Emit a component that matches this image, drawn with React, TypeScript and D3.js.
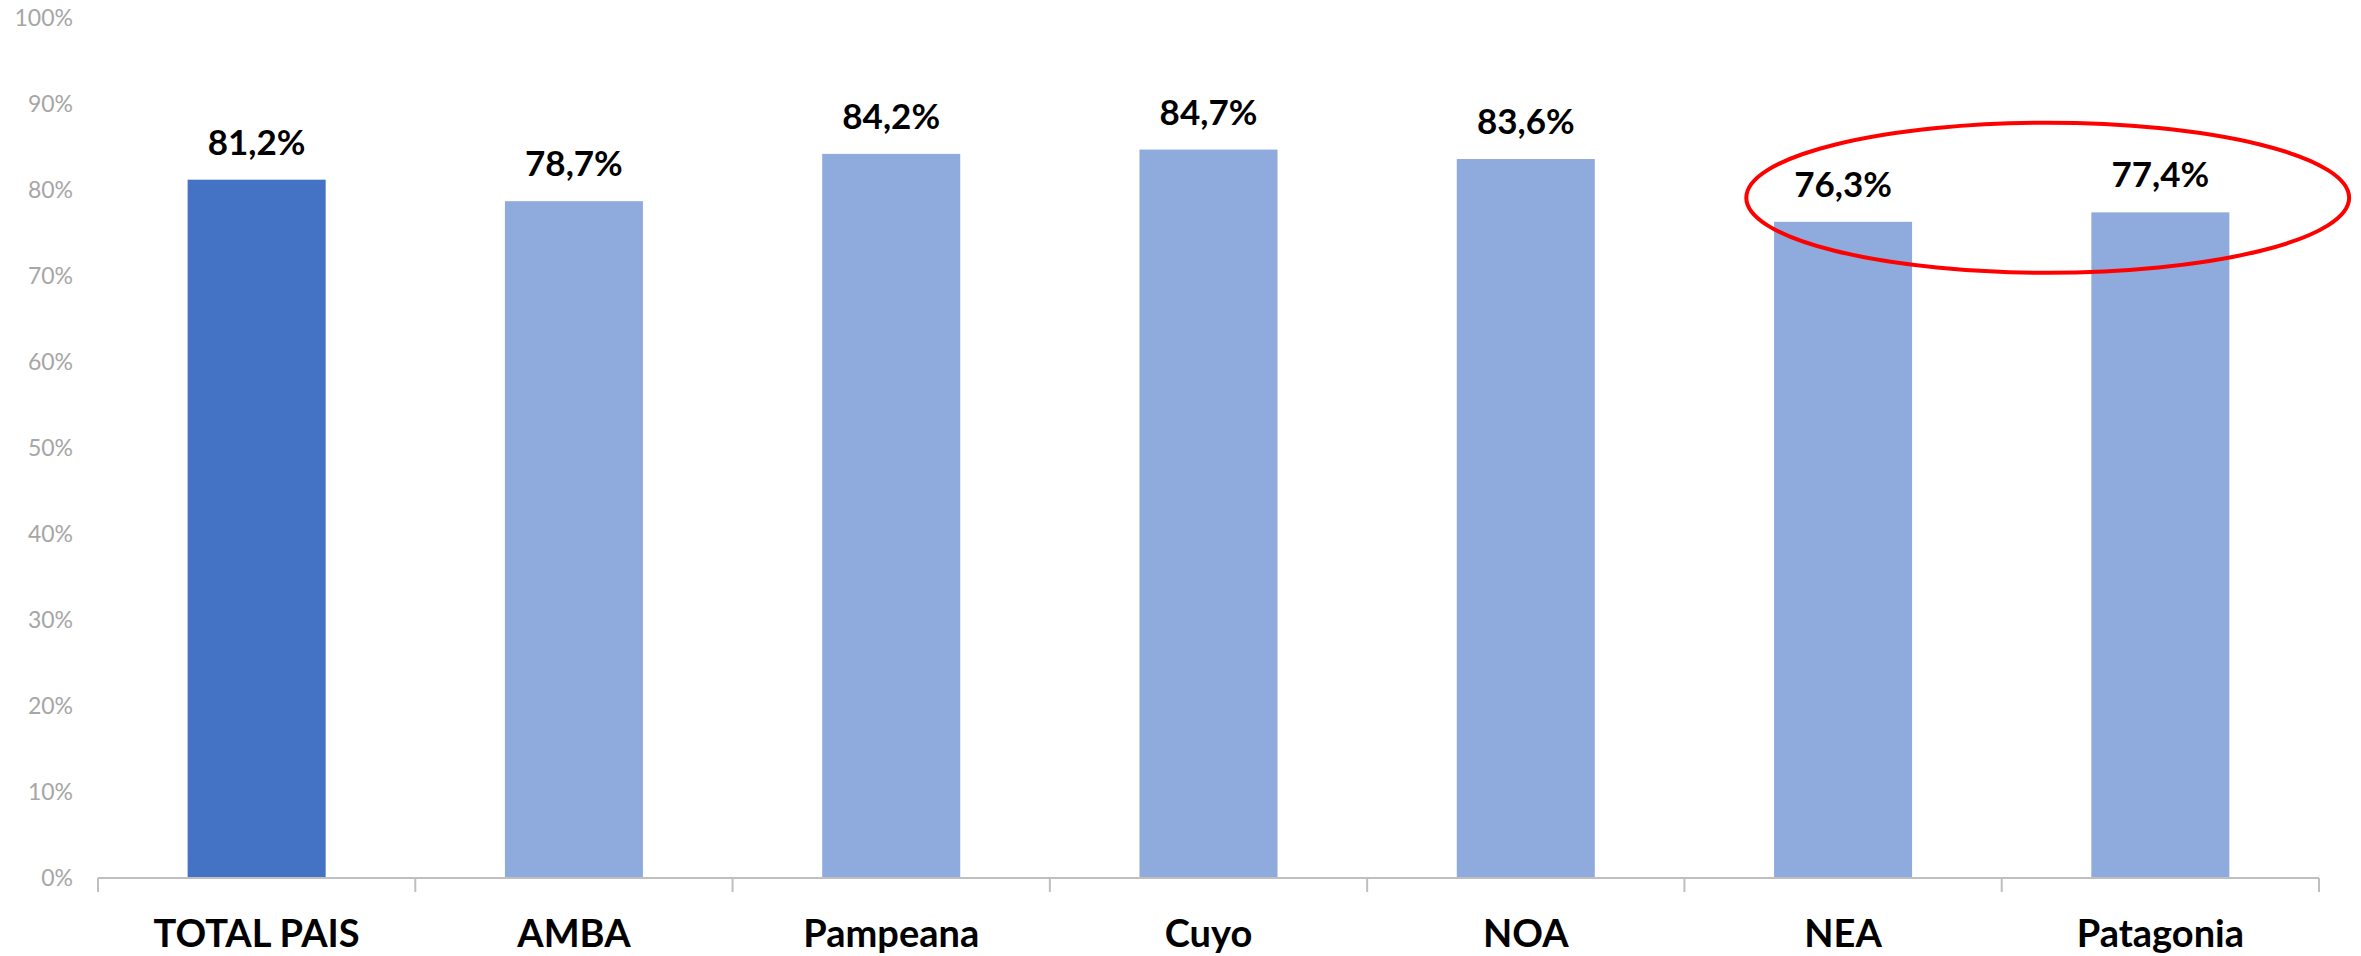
import React, { useEffect, useRef } from 'react';
import * as d3 from 'd3';

const categories = ['TOTAL PAIS', 'AMBA', 'Pampeana', 'Cuyo', 'NOA', 'NEA', 'Patagonia'];
const values = [81.2, 78.7, 84.2, 84.7, 83.6, 76.3, 77.4];
const yTicks = [0, 10, 20, 30, 40, 50, 60, 70, 80, 90, 100];
const highlighted = ['NEA', 'Patagonia'];

export default function App() {
    const ref = useRef<SVGSVGElement | null>(null);
    useEffect(() => {
        document.body.style.margin = '0';
        document.body.style.overflow = 'hidden';
        const width = 2361, height = 956;
        const margin = { top: 18, right: 42, bottom: 78, left: 98 };
        const svg = d3.select(ref.current);
        svg.selectAll('*').remove();
        svg.attr('width', width).attr('height', height).attr('viewBox', `0 0 ${width} ${height}`);

        const x = d3.scaleBand<string>().domain(categories)
            .range([margin.left, width - margin.right])
            .paddingInner(0.565).paddingOuter(0.2825);
        const y = d3.scaleLinear().domain([0, 100]).range([height - margin.bottom, margin.top]);
        const es = d3.formatLocale({ decimal: ',', thousands: '.', grouping: [3], currency: ['$', ''] });
        const fmt = es.format('.1f');

        // y tick labels (no axis line, no gridlines)
        svg.append('g').selectAll('text').data(yTicks).join('text')
            .attr('x', 73)
            .attr('y', d => y(d))
            .attr('dy', '0.35em')
            .attr('text-anchor', 'end')
            .attr('font-family', 'Lato, sans-serif')
            .attr('font-size', 23)
            .attr('fill', '#a6a6a6')
            .text(d => `${d}%`);

        // bars
        svg.append('g').selectAll('rect').data(categories).join('rect')
            .attr('x', d => x(d)!)
            .attr('y', (d, i) => y(values[i]))
            .attr('width', x.bandwidth())
            .attr('height', (d, i) => y(0) - y(values[i]))
            .attr('fill', (d, i) => i === 0 ? '#4472C4' : '#8FAADC');

        // x axis line and category separators
        const step = x.step();
        const y0 = y(0);
        svg.append('line')
            .attr('x1', margin.left).attr('x2', width - margin.right)
            .attr('y1', y0).attr('y2', y0)
            .attr('stroke', '#bfbfbf').attr('stroke-width', 2);
        svg.append('g').selectAll('line').data(d3.range(categories.length + 1)).join('line')
            .attr('x1', i => margin.left + i * step).attr('x2', i => margin.left + i * step)
            .attr('y1', y0).attr('y2', y0 + 14)
            .attr('stroke', '#bfbfbf').attr('stroke-width', 2);

        // category labels
        svg.append('g').selectAll('text').data(categories).join('text')
            .attr('x', d => x(d)! + x.bandwidth() / 2)
            .attr('y', 947)
            .attr('text-anchor', 'middle')
            .attr('font-family', 'Lato, sans-serif')
            .attr('font-weight', 'bold')
            .attr('font-size', 38)
            .attr('fill', '#000')
            .text(d => d);

        // value labels
        svg.append('g').selectAll('text').data(categories).join('text')
            .attr('x', d => x(d)! + x.bandwidth() / 2)
            .attr('y', (d, i) => y(values[i]) - 25)
            .attr('text-anchor', 'middle')
            .attr('font-family', 'Lato, sans-serif')
            .attr('font-weight', 'bold')
            .attr('font-size', 35)
            .attr('fill', '#000')
            .text((d, i) => `${fmt(values[i])}%`);

        // red highlight ellipse around NEA and Patagonia
        const c0 = x(highlighted[0])! + x.bandwidth() / 2;
        const c1 = x(highlighted[1])! + x.bandwidth() / 2;
        svg.append('ellipse')
            .attr('cx', (c0 + c1) / 2 + 46)
            .attr('cy', y(79.1))
            .attr('rx', step * 0.95)
            .attr('ry', 75)
            .attr('fill', 'none')
            .attr('stroke', '#ff0000')
            .attr('stroke-width', 4);
    }, []);
    return <svg ref={ref} style={{ display: 'block' }} />;
}
